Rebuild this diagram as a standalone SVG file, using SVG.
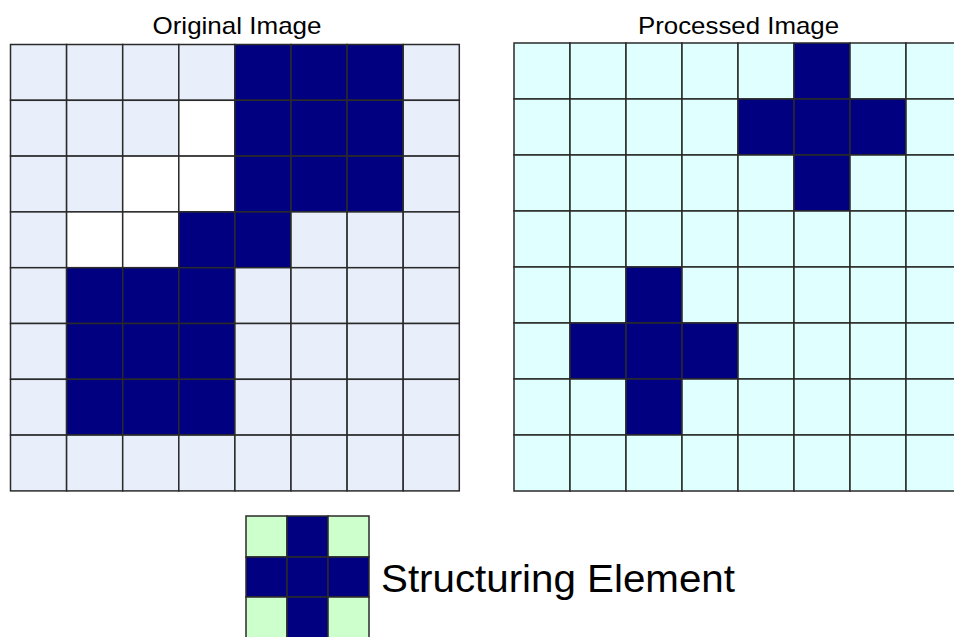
<svg xmlns="http://www.w3.org/2000/svg" width="954" height="637" viewBox="0 0 954 637">
<style>
.t{font-family:"Liberation Sans",Arial,sans-serif;fill:#000}
.c{stroke:#2a2a2a;stroke-width:1.5}
.l{fill:#E8EEFA}
.w{fill:#FFFFFF}
.d{fill:#000080}
.q{fill:#E0FFFF}
.g{fill:#CCFFCC}
</style>
<rect width="954" height="637" fill="#fff"/>
<text class="t" x="237" y="34" font-size="24" text-anchor="middle" textLength="169" lengthAdjust="spacingAndGlyphs">Original Image</text>
<text class="t" x="738.5" y="34" font-size="24" text-anchor="middle" textLength="201" lengthAdjust="spacingAndGlyphs">Processed Image</text>
<g id="original">
<g class="c">
<rect class="l" x="10.5" y="44.5" width="56.1" height="55.8"/><rect class="l" x="66.6" y="44.5" width="56.1" height="55.8"/><rect class="l" x="122.7" y="44.5" width="56.1" height="55.8"/><rect class="l" x="178.8" y="44.5" width="56.1" height="55.8"/><rect class="d" x="234.9" y="44.5" width="56.1" height="55.8"/><rect class="d" x="291" y="44.5" width="56.1" height="55.8"/><rect class="d" x="347.1" y="44.5" width="56.1" height="55.8"/><rect class="l" x="403.2" y="44.5" width="56.1" height="55.8"/>
<rect class="l" x="10.5" y="100.3" width="56.1" height="55.8"/><rect class="l" x="66.6" y="100.3" width="56.1" height="55.8"/><rect class="l" x="122.7" y="100.3" width="56.1" height="55.8"/><rect class="w" x="178.8" y="100.3" width="56.1" height="55.8"/><rect class="d" x="234.9" y="100.3" width="56.1" height="55.8"/><rect class="d" x="291" y="100.3" width="56.1" height="55.8"/><rect class="d" x="347.1" y="100.3" width="56.1" height="55.8"/><rect class="l" x="403.2" y="100.3" width="56.1" height="55.8"/>
<rect class="l" x="10.5" y="156.1" width="56.1" height="55.8"/><rect class="l" x="66.6" y="156.1" width="56.1" height="55.8"/><rect class="w" x="122.7" y="156.1" width="56.1" height="55.8"/><rect class="w" x="178.8" y="156.1" width="56.1" height="55.8"/><rect class="d" x="234.9" y="156.1" width="56.1" height="55.8"/><rect class="d" x="291" y="156.1" width="56.1" height="55.8"/><rect class="d" x="347.1" y="156.1" width="56.1" height="55.8"/><rect class="l" x="403.2" y="156.1" width="56.1" height="55.8"/>
<rect class="l" x="10.5" y="211.9" width="56.1" height="55.8"/><rect class="w" x="66.6" y="211.9" width="56.1" height="55.8"/><rect class="w" x="122.7" y="211.9" width="56.1" height="55.8"/><rect class="d" x="178.8" y="211.9" width="56.1" height="55.8"/><rect class="d" x="234.9" y="211.9" width="56.1" height="55.8"/><rect class="l" x="291" y="211.9" width="56.1" height="55.8"/><rect class="l" x="347.1" y="211.9" width="56.1" height="55.8"/><rect class="l" x="403.2" y="211.9" width="56.1" height="55.8"/>
<rect class="l" x="10.5" y="267.7" width="56.1" height="55.8"/><rect class="d" x="66.6" y="267.7" width="56.1" height="55.8"/><rect class="d" x="122.7" y="267.7" width="56.1" height="55.8"/><rect class="d" x="178.8" y="267.7" width="56.1" height="55.8"/><rect class="l" x="234.9" y="267.7" width="56.1" height="55.8"/><rect class="l" x="291" y="267.7" width="56.1" height="55.8"/><rect class="l" x="347.1" y="267.7" width="56.1" height="55.8"/><rect class="l" x="403.2" y="267.7" width="56.1" height="55.8"/>
<rect class="l" x="10.5" y="323.5" width="56.1" height="55.8"/><rect class="d" x="66.6" y="323.5" width="56.1" height="55.8"/><rect class="d" x="122.7" y="323.5" width="56.1" height="55.8"/><rect class="d" x="178.8" y="323.5" width="56.1" height="55.8"/><rect class="l" x="234.9" y="323.5" width="56.1" height="55.8"/><rect class="l" x="291" y="323.5" width="56.1" height="55.8"/><rect class="l" x="347.1" y="323.5" width="56.1" height="55.8"/><rect class="l" x="403.2" y="323.5" width="56.1" height="55.8"/>
<rect class="l" x="10.5" y="379.3" width="56.1" height="55.8"/><rect class="d" x="66.6" y="379.3" width="56.1" height="55.8"/><rect class="d" x="122.7" y="379.3" width="56.1" height="55.8"/><rect class="d" x="178.8" y="379.3" width="56.1" height="55.8"/><rect class="l" x="234.9" y="379.3" width="56.1" height="55.8"/><rect class="l" x="291" y="379.3" width="56.1" height="55.8"/><rect class="l" x="347.1" y="379.3" width="56.1" height="55.8"/><rect class="l" x="403.2" y="379.3" width="56.1" height="55.8"/>
<rect class="l" x="10.5" y="435.1" width="56.1" height="55.8"/><rect class="l" x="66.6" y="435.1" width="56.1" height="55.8"/><rect class="l" x="122.7" y="435.1" width="56.1" height="55.8"/><rect class="l" x="178.8" y="435.1" width="56.1" height="55.8"/><rect class="l" x="234.9" y="435.1" width="56.1" height="55.8"/><rect class="l" x="291" y="435.1" width="56.1" height="55.8"/><rect class="l" x="347.1" y="435.1" width="56.1" height="55.8"/><rect class="l" x="403.2" y="435.1" width="56.1" height="55.8"/>
</g>
</g>
<g id="processed">
<g class="c">
<rect class="q" x="514" y="43" width="56" height="56"/><rect class="q" x="570" y="43" width="56" height="56"/><rect class="q" x="626" y="43" width="56" height="56"/><rect class="q" x="682" y="43" width="56" height="56"/><rect class="q" x="738" y="43" width="56" height="56"/><rect class="d" x="794" y="43" width="56" height="56"/><rect class="q" x="850" y="43" width="56" height="56"/><rect class="q" x="906" y="43" width="56" height="56"/>
<rect class="q" x="514" y="99" width="56" height="56"/><rect class="q" x="570" y="99" width="56" height="56"/><rect class="q" x="626" y="99" width="56" height="56"/><rect class="q" x="682" y="99" width="56" height="56"/><rect class="d" x="738" y="99" width="56" height="56"/><rect class="d" x="794" y="99" width="56" height="56"/><rect class="d" x="850" y="99" width="56" height="56"/><rect class="q" x="906" y="99" width="56" height="56"/>
<rect class="q" x="514" y="155" width="56" height="56"/><rect class="q" x="570" y="155" width="56" height="56"/><rect class="q" x="626" y="155" width="56" height="56"/><rect class="q" x="682" y="155" width="56" height="56"/><rect class="q" x="738" y="155" width="56" height="56"/><rect class="d" x="794" y="155" width="56" height="56"/><rect class="q" x="850" y="155" width="56" height="56"/><rect class="q" x="906" y="155" width="56" height="56"/>
<rect class="q" x="514" y="211" width="56" height="56"/><rect class="q" x="570" y="211" width="56" height="56"/><rect class="q" x="626" y="211" width="56" height="56"/><rect class="q" x="682" y="211" width="56" height="56"/><rect class="q" x="738" y="211" width="56" height="56"/><rect class="q" x="794" y="211" width="56" height="56"/><rect class="q" x="850" y="211" width="56" height="56"/><rect class="q" x="906" y="211" width="56" height="56"/>
<rect class="q" x="514" y="267" width="56" height="56"/><rect class="q" x="570" y="267" width="56" height="56"/><rect class="d" x="626" y="267" width="56" height="56"/><rect class="q" x="682" y="267" width="56" height="56"/><rect class="q" x="738" y="267" width="56" height="56"/><rect class="q" x="794" y="267" width="56" height="56"/><rect class="q" x="850" y="267" width="56" height="56"/><rect class="q" x="906" y="267" width="56" height="56"/>
<rect class="q" x="514" y="323" width="56" height="56"/><rect class="d" x="570" y="323" width="56" height="56"/><rect class="d" x="626" y="323" width="56" height="56"/><rect class="d" x="682" y="323" width="56" height="56"/><rect class="q" x="738" y="323" width="56" height="56"/><rect class="q" x="794" y="323" width="56" height="56"/><rect class="q" x="850" y="323" width="56" height="56"/><rect class="q" x="906" y="323" width="56" height="56"/>
<rect class="q" x="514" y="379" width="56" height="56"/><rect class="q" x="570" y="379" width="56" height="56"/><rect class="d" x="626" y="379" width="56" height="56"/><rect class="q" x="682" y="379" width="56" height="56"/><rect class="q" x="738" y="379" width="56" height="56"/><rect class="q" x="794" y="379" width="56" height="56"/><rect class="q" x="850" y="379" width="56" height="56"/><rect class="q" x="906" y="379" width="56" height="56"/>
<rect class="q" x="514" y="435" width="56" height="56"/><rect class="q" x="570" y="435" width="56" height="56"/><rect class="q" x="626" y="435" width="56" height="56"/><rect class="q" x="682" y="435" width="56" height="56"/><rect class="q" x="738" y="435" width="56" height="56"/><rect class="q" x="794" y="435" width="56" height="56"/><rect class="q" x="850" y="435" width="56" height="56"/><rect class="q" x="906" y="435" width="56" height="56"/>
</g>
</g>
<g id="structuring-element">
<g class="c">
<rect class="g" x="246" y="516" width="41" height="41"/><rect class="d" x="287" y="516" width="41" height="41"/><rect class="g" x="328" y="516" width="41" height="41"/>
<rect class="d" x="246" y="557" width="41" height="40"/><rect class="d" x="287" y="557" width="41" height="40"/><rect class="d" x="328" y="557" width="41" height="40"/>
<rect class="g" x="246" y="597" width="41" height="41"/><rect class="d" x="287" y="597" width="41" height="41"/><rect class="g" x="328" y="597" width="41" height="41"/>
</g>
<text class="t" x="381" y="592" font-size="38" textLength="354" lengthAdjust="spacingAndGlyphs">Structuring Element</text>
</g>
</svg>
